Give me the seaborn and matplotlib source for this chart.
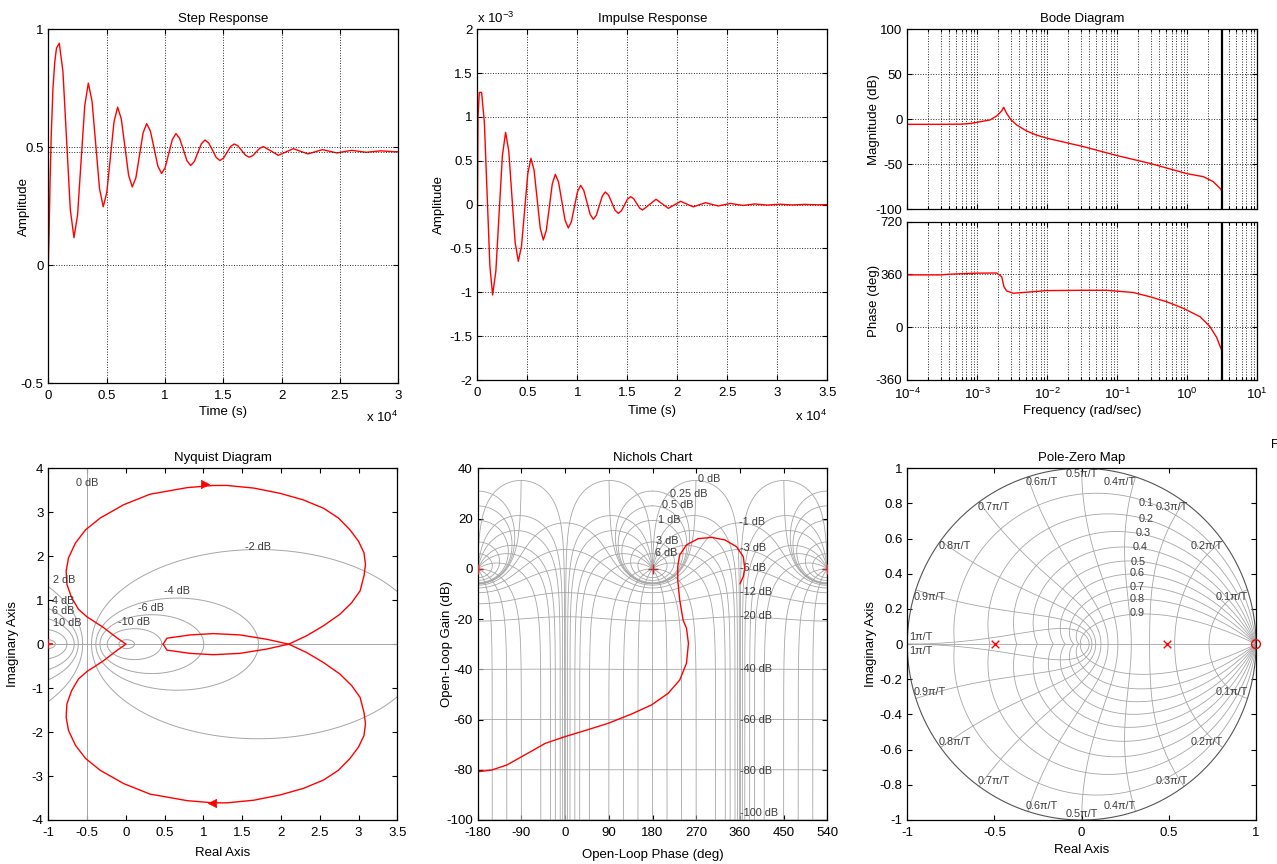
import numpy as np
import seaborn as sns
from matplotlib import pyplot as plt
from matplotlib.ticker import FuncFormatter, LogLocator, NullFormatter

# ============ values ============
step_time = [0, 60, 150, 250, 400, 550, 700, 940, 1255, 1570, 1885, 2200, 2508, 2815, 3123, 3430,
             3750, 4070, 4390, 4710, 5018, 5325, 5633, 5940, 6255, 6570, 6885, 7200, 7508, 7815, 8123,
             8430, 8750, 9070, 9390, 9710, 10018, 10325, 10633, 10940, 11255, 11570, 11885, 12200,
             12508, 12815, 13123, 13430, 13750, 14070, 14390, 14710, 15018, 15325, 15633, 15940,
             16263, 16585, 16908, 17230, 17530, 17830, 18130, 18430, 19070, 19710, 20355, 21000,
             21625, 22250, 22875, 23500, 24125, 24750, 25375, 26000, 26625, 27250, 27875, 28500,
             29125, 29750, 30000]
step_amp = [0.0, 0.12, 0.35, 0.55, 0.75, 0.86, 0.92, 0.941, 0.821, 0.529, 0.237, 0.117, 0.213, 0.445,
            0.676, 0.772, 0.695, 0.510, 0.325, 0.248, 0.310, 0.459, 0.608, 0.670, 0.621, 0.501, 0.381,
            0.332, 0.371, 0.466, 0.561, 0.600, 0.569, 0.495, 0.420, 0.389, 0.414, 0.474, 0.533, 0.558,
            0.538, 0.491, 0.443, 0.423, 0.439, 0.477, 0.515, 0.531, 0.518, 0.488, 0.457, 0.444, 0.454,
            0.479, 0.504, 0.514, 0.506, 0.486, 0.466, 0.458, 0.465, 0.481, 0.496, 0.503, 0.485, 0.466,
            0.480, 0.494, 0.483, 0.472, 0.481, 0.490, 0.483, 0.476, 0.482, 0.487, 0.483, 0.479, 0.482,
            0.485, 0.483, 0.481, 0.482]
step_final = 0.482

impulse_time = [0, 70, 200, 430, 705, 980, 1255, 1530, 1855, 2180, 2505, 2830, 3148, 3465, 3783, 4100,
                4418, 4735, 5053, 5370, 5678, 5985, 6293, 6600, 6900, 7200, 7500, 7800, 8125, 8450,
                8775, 9100, 9408, 9715, 10023, 10330, 10648, 10965, 11283, 11600, 11900, 12200, 12500,
                12800, 13125, 13450, 13775, 14100, 14408, 14715, 15023, 15330, 15630, 15930, 16230,
                16530, 17200, 17870, 18485, 19100, 19715, 20330, 20965, 21600, 22215, 22830, 23465,
                24100, 24715, 25330, 25965, 26600, 27185, 27770, 28400, 29000, 29600, 30250, 30900,
                31500, 32150, 32750, 33400, 34000, 35000]
impulse_amp_milli = [-0.33, 1.0, 1.28, 1.28, 0.943, 0.125, -0.693, -1.03, -0.759, -0.103, 0.554, 0.825,
                     0.610, 0.090, -0.431, -0.646, -0.475, -0.059, 0.357, 0.528, 0.392, 0.063, -0.267,
                     -0.403, -0.294, -0.029, 0.237, 0.346, 0.257, 0.040, -0.177, -0.266, -0.195, -0.023,
                     0.149, 0.220, 0.163, 0.027, -0.110, -0.167, -0.122, -0.012, 0.099, 0.144, 0.109,
                     0.023, -0.064, -0.099, -0.071, -0.004, 0.063, 0.091, 0.069, 0.015, -0.039, -0.061,
                     0.0, 0.061, 0.010, -0.042, -0.002, 0.038, 0.006, -0.025, -0.001, 0.022, 0.003,
                     -0.015, 0.0, 0.014, 0.002, -0.009, 0.0, 0.008, 0.001, -0.005, 0.0, 0.005, 0.0,
                     -0.003, 0.0, 0.003, 0.0, -0.002, 0.0]

bode_mag_freq = [1e-4, 3e-4, 6e-4, 8e-4, 1e-3, 1.52e-3, 1.89e-3, 2.23e-3, 2.38e-3, 2.62e-3, 2.99e-3,
                 3.65e-3, 5.07e-3, 7e-3, 1e-2, 2e-2, 3.3e-2, 0.1, 0.29, 1.0, 1.69, 2.35, 2.77, 3.0, 3.1416]
bode_mag_db = [-5.6, -5.6, -5.4, -4.6, -3.3, -0.7, 3.7, 9.3, 13.3, 6.7, 0.0, -6.3, -13.0, -17.5, -21.1,
               -26.5, -30.4, -40.4, -48.9, -60.5, -63.7, -69.3, -74.8, -77.5, -80.4]
bode_phase_freq = [1e-4, 3.0e-4, 4.07e-4, 1e-3, 1.89e-3, 2.23e-3, 2.40e-3, 2.62e-3, 3.27e-3, 4.54e-3,
                   9.77e-3, 0.0327, 0.0705, 0.169, 0.293, 0.507, 0.877, 1.52, 2.11, 2.62, 3.1416]
bode_phase_deg = [357, 357, 362, 369, 370, 345, 277, 248, 232, 237, 250, 252, 252, 237, 208, 174, 129,
                  72, 4, -69, -165]
nyquist_freq = 3.1416

# positive-frequency branch of the Nyquist curve (the other branch is its mirror image)
nyq_re = [0.48, 0.53, 0.83, 1.13, 1.47, 1.82, 2.10, 2.33, 2.55, 2.76, 2.91, 3.02, 3.07, 3.09, 3.07,
          3.00, 2.89, 2.74, 2.55, 2.29, 1.99, 1.65, 1.30, 1.13, 0.79, 0.31, -0.03, -0.33, -0.52, -0.65,
          -0.74, -0.77, -0.76, -0.70, -0.61, -0.50, -0.29, -0.12, 0.0]
nyq_im = [0.0, 0.136, 0.21, 0.24, 0.21, 0.11, 0.0, -0.19, -0.42, -0.68, -0.94, -1.21, -1.55, -1.81,
          -2.08, -2.34, -2.60, -2.87, -3.09, -3.28, -3.43, -3.55, -3.61, -3.61, -3.56, -3.41, -3.17,
          -2.87, -2.60, -2.30, -1.96, -1.66, -1.36, -1.06, -0.79, -0.62, -0.38, -0.15, 0.0]
nyq_arrow_re = [1.02, 1.11]
nyq_arrow_im = [3.65, -3.61]

nich_phase = [-180, -151, -120, -83, -41, 0, 41, 89, 137, 178, 212, 236, 250, 254, 250, 243, 236, 232,
              232, 236, 250, 274, 302, 329, 353, 367, 370, 367, 360]
nich_gain = [-80.8, -80.1, -78.1, -74.1, -69.5, -66.8, -64.4, -61.5, -57.8, -54.2, -49.6, -44.3, -37.6,
             -29.7, -23.7, -20.4, -12.4, -4.5, 0.9, 5.5, 9.5, 12.0, 12.5, 11.5, 8.8, 4.8, 0.2, -3.1, -6.0]
nich_critical = [-180, 180, 540]

pole_re = [-0.495, 0.488]
pole_im = [0.0, 0.0]
zero_re = [1.0]
zero_im = [0.0]

# grid levels and their labels
nyq_db_levels = [-20, -10, -6, -4, -2, 2, 4, 6, 10, 20]
nyq_labels = ['0 dB', '2 dB', '4 dB', '6 dB', '10 dB', '-2 dB', '-4 dB', '-6 dB', '-10 dB']
nyq_label_x = [-0.5, -0.8, -0.81, -0.81, -0.75, 1.70, 0.66, 0.33, 0.10]
nyq_label_y = [3.67, 1.46, 0.99, 0.75, 0.49, 2.22, 1.21, 0.83, 0.51]

nich_mag_levels = [6, 3, 1, 0.5, 0.25, 0, -1, -3, -6, -12, -20, -40, -60, -80, -100]
nich_phase_levels = [-1, -5, -10, -20, -30, -50, -90, -120, -150, -180, -210, -240, -270, -310, -330,
                     -340, -350, -355, -359]
nich_labels = ['0 dB', '0.25 dB', '0.5 dB', '1 dB', '3 dB', '6 dB', '-1 dB', '-3 dB', '-6 dB',
               '-12 dB', '-20 dB', '-40 dB', '-60 dB', '-80 dB', '-100 dB']
nich_label_x = [274, 216, 200, 192, 187, 185, 359, 361, 361, 361, 361, 361, 361, 361, 361]
nich_label_y = [35.6, 29.8, 25.3, 19.4, 11.2, 6.2, 18.6, 8.2, 0.5, -9.2, -18.8, -40, -60, -80.4, -97.4]

pz_zeta = [0.1, 0.2, 0.3, 0.4, 0.5, 0.6, 0.7, 0.8, 0.9]
pz_zeta_label_x = [0.37, 0.372, 0.352, 0.335, 0.327, 0.32, 0.32, 0.32, 0.32]
pz_zeta_label_y = [0.80, 0.71, 0.63, 0.55, 0.469, 0.403, 0.327, 0.255, 0.175]
pz_wn = [0.1, 0.2, 0.3, 0.4, 0.5, 0.6, 0.7, 0.8, 0.9, 1.0]
pz_wn_labels = ['0.1π/T', '0.2π/T', '0.3π/T', '0.4π/T', '0.5π/T', '0.6π/T', '0.7π/T', '0.8π/T',
                '0.9π/T', '1π/T']
pz_wn_label_x = [0.862, 0.719, 0.52, 0.216, 0.0, -0.226, -0.505, -0.728, -0.87, -0.923]
pz_wn_label_y = [0.27, 0.558, 0.778, 0.92, 0.966, 0.92, 0.778, 0.558, 0.27, 0.04]

# ============ style ============
sns.set_theme(style='white')
plt.rcParams['font.family'] = ['Liberation Sans', 'DejaVu Sans']
plt.rcParams.update({
    'font.size': 9.5, 'axes.titlesize': 9.5, 'axes.labelsize': 9.5,
    'xtick.labelsize': 9.5, 'ytick.labelsize': 9.5,
    'axes.unicode_minus': False,
    'mathtext.fontset': 'custom', 'mathtext.rm': 'Liberation Sans',
    'mathtext.it': 'Liberation Sans:italic', 'mathtext.bf': 'Liberation Sans:bold',
    'text.color': 'black', 'axes.labelcolor': 'black',
    'xtick.color': 'black', 'ytick.color': 'black',
})

W, H = 1277, 864
RED = '#ff0000'
GRID = '#2a2a2a'
LIGHT = '#a6a6a6'
LABEL = '#3c3c3c'


def box(l, t, r, b):
    return [l / W, 1 - b / H, (r - l) / W, (b - t) / H]


def plain(v, pos):
    return f'{round(v, 6) + 0:g}'


def style(ax, title, xlabel, ylabel, ylab_x, xlab_y, dotted_grid=True):
    ax.set_facecolor('white')
    for s in ax.spines.values():
        s.set_visible(True)
        s.set_color('black')
        s.set_linewidth(0.9)
    ax.tick_params(which='both', direction='in', top=True, right=True, bottom=True, left=True,
                   width=0.8, colors='black')
    ax.tick_params(which='major', length=3.5)
    ax.tick_params(which='minor', length=2)
    ax.tick_params(axis='x', pad=5)
    ax.tick_params(axis='y', pad=3.5)
    if dotted_grid:
        ax.grid(True, which='major', color=GRID, linestyle=':', linewidth=0.7)
    if title:
        ax.set_title(title, pad=5)
    if xlabel:
        ax.set_xlabel(xlabel)
        ax.xaxis.set_label_coords(0.5, xlab_y)
    if ylabel:
        ax.set_ylabel(ylabel)
        ax.yaxis.set_label_coords(ylab_x, 0.5)


def line(ax, x, y, **kw):
    sns.lineplot(x=x, y=y, ax=ax, color=RED, linewidth=1.0, sort=False, estimator=None, **kw)


fig = plt.figure(figsize=(W / 100, H / 100), dpi=100)

# ============ Step Response ============
ax = fig.add_axes(box(48.3, 29.3, 398.3, 383.3))
line(ax, step_time, step_amp)
ax.axhline(step_final, color=GRID, linestyle=':', linewidth=0.7)
ax.set_xlim(0, 30000)
ax.set_ylim(-0.5, 1)
ax.set_xticks(range(0, 30001, 5000))
ax.set_yticks([-0.5, 0, 0.5, 1])
ax.xaxis.set_major_formatter(FuncFormatter(lambda v, p: plain(v / 1e4, p)))
ax.yaxis.set_major_formatter(FuncFormatter(plain))
style(ax, 'Step Response', 'Time (s)', 'Amplitude', -0.052, -0.065)
ax.text(1.0, -0.11, 'x 10$^{4}$', transform=ax.transAxes, ha='right', va='baseline')

# ============ Impulse Response ============
ax = fig.add_axes(box(477.3, 29.3, 827.3, 380))
line(ax, impulse_time, impulse_amp_milli)
ax.set_xlim(0, 35000)
ax.set_ylim(-2, 2)
ax.set_xticks(range(0, 35001, 5000))
ax.set_yticks([-2, -1.5, -1, -0.5, 0, 0.5, 1, 1.5, 2])
ax.xaxis.set_major_formatter(FuncFormatter(lambda v, p: plain(v / 1e4, p)))
ax.yaxis.set_major_formatter(FuncFormatter(plain))
style(ax, 'Impulse Response', 'Time (s)', 'Amplitude', -0.092, -0.071)
ax.text(1.0, -0.117, 'x 10$^{4}$', transform=ax.transAxes, ha='right', va='baseline')
ax.text(0.0, 1.018, 'x 10$^{-3}$', transform=ax.transAxes, ha='left', va='baseline')

# ============ Bode Diagram ============
ax_m = fig.add_axes(box(907.3, 29.3, 1257.3, 209.3))
ax_p = fig.add_axes(box(907.3, 221.7, 1257.3, 380))
line(ax_m, bode_mag_freq, bode_mag_db)
line(ax_p, bode_phase_freq, bode_phase_deg)
for a in (ax_m, ax_p):
    a.set_xscale('log')
    a.set_xlim(1e-4, 1e1)
    a.xaxis.set_major_locator(LogLocator(base=10, numticks=10))
    a.xaxis.set_minor_locator(LogLocator(base=10, subs=np.arange(2, 10), numticks=20))
    a.xaxis.set_minor_formatter(NullFormatter())
    a.axvline(nyquist_freq, color='black', linewidth=1.6, zorder=3)
ax_m.set_ylim(-100, 100)
ax_m.set_yticks([-100, -50, 0, 50, 100])
ax_p.set_ylim(-360, 720)
ax_p.set_yticks([-360, 0, 360, 720])
ax_m.yaxis.set_major_formatter(FuncFormatter(plain))
ax_p.yaxis.set_major_formatter(FuncFormatter(plain))
style(ax_m, 'Bode Diagram', None, 'Magnitude (dB)', -0.078, 0)
style(ax_p, None, 'Frequency (rad/sec)', 'Phase (deg)', -0.078, -0.158)
for a in (ax_m, ax_p):
    a.xaxis.grid(True, which='minor', color=GRID, linestyle=':', linewidth=0.7)
ax_m.tick_params(axis='x', labelbottom=False)

# ============ Nyquist Diagram ============
ax = fig.add_axes(box(48.3, 468.3, 397.3, 820))
theta = np.linspace(0, 2 * np.pi, 500)
for db in nyq_db_levels:
    m = 10 ** (db / 20)
    c = -m ** 2 / (m ** 2 - 1)
    r = abs(m / (m ** 2 - 1))
    ax.plot(c + r * np.cos(theta), r * np.sin(theta), color=LIGHT, linewidth=0.7, zorder=1)
ax.axvline(-0.5, color=LIGHT, linewidth=0.7, zorder=1)
ax.axhline(0, color=LIGHT, linewidth=0.7, zorder=1)
for t, x, y in zip(nyq_labels, nyq_label_x, nyq_label_y):
    ax.text(x, y, t, ha='center', va='center', fontsize=7.8, color=LABEL)
line(ax, nyq_re, nyq_im)
line(ax, nyq_re, [-v for v in nyq_im])
sns.scatterplot(x=nyq_arrow_re[:1], y=nyq_arrow_im[:1], marker='>', color=RED, s=36,
                edgecolor=RED, ax=ax, zorder=4)
sns.scatterplot(x=nyq_arrow_re[1:], y=nyq_arrow_im[1:], marker='<', color=RED, s=36,
                edgecolor=RED, ax=ax, zorder=4)
sns.scatterplot(x=[-1], y=[0], marker='+', color=RED, s=50, linewidth=1.2, ax=ax, zorder=4)
ax.set_xlim(-1, 3.5)
ax.set_ylim(-4, 4)
ax.set_xticks([-1, -0.5, 0, 0.5, 1, 1.5, 2, 2.5, 3, 3.5])
ax.set_yticks(range(-4, 5))
ax.xaxis.set_major_formatter(FuncFormatter(plain))
ax.yaxis.set_major_formatter(FuncFormatter(plain))
style(ax, 'Nyquist Diagram', 'Real Axis', 'Imaginary Axis', -0.083, -0.077, dotted_grid=False)


# ============ Nichols Chart ============
def nichols_locus(t):
    g = t / (1 - t)
    return np.degrees(np.unwrap(np.angle(g))), 20 * np.log10(np.abs(g))


ax = fig.add_axes(box(477.7, 468.3, 827.3, 820))
psi_full = np.radians(np.linspace(0, -360, 1441))
psi_open = np.radians(np.linspace(-1, -359, 1433))
for lev in nich_mag_levels:
    m = 10 ** (lev / 20)
    ph, gn = nichols_locus(m * np.exp(1j * (psi_open if lev == 0 else psi_full)))
    for k in range(-2, 4):
        ax.plot(ph + 360 * k, gn, color=LIGHT, linewidth=0.6, zorder=1)
mags = np.unique(np.concatenate([np.logspace(-6, 4, 900), np.linspace(0.85, 1.15, 3000)]))
for lev in nich_phase_levels:
    ph, gn = nichols_locus(mags * np.exp(1j * np.radians(lev)))
    for k in range(-2, 4):
        ax.plot(ph + 360 * k, gn, color=LIGHT, linewidth=0.6, zorder=1)
for t, x, y in zip(nich_labels, nich_label_x, nich_label_y):
    ax.text(x, y, t, ha='left', va='center', fontsize=7.8, color=LABEL, zorder=2)
line(ax, nich_phase, nich_gain)
sns.scatterplot(x=nich_critical, y=[0] * len(nich_critical), marker='+', color='#b83030', s=60,
                linewidth=1.0, ax=ax, zorder=4)
ax.set_xlim(-180, 540)
ax.set_ylim(-100, 40)
ax.set_xticks([-180, -90, 0, 90, 180, 270, 360, 450, 540])
ax.set_yticks(range(-100, 41, 20))
ax.xaxis.set_major_formatter(FuncFormatter(plain))
ax.yaxis.set_major_formatter(FuncFormatter(plain))
style(ax, 'Nichols Chart', 'Open-Loop Phase (deg)', 'Open-Loop Gain (dB)', -0.071, -0.082,
      dotted_grid=False)

# ============ Pole-Zero Map ============
ax = fig.add_axes(box(907.3, 468.3, 1256, 820))
for z in pz_zeta:
    wn = np.linspace(0, np.pi / np.sqrt(1 - z ** 2), 300)
    zz = np.exp(-z * wn + 1j * wn * np.sqrt(1 - z ** 2))
    ax.plot(zz.real, zz.imag, color=LIGHT, linewidth=0.6, zorder=1)
    ax.plot(zz.real, -zz.imag, color=LIGHT, linewidth=0.6, zorder=1)
zeta_run = np.linspace(0, 1, 200)
for w in pz_wn:
    wn = w * np.pi
    zz = np.exp(-zeta_run * wn + 1j * wn * np.sqrt(1 - zeta_run ** 2))
    ax.plot(zz.real, zz.imag, color=LIGHT, linewidth=0.6, zorder=1)
    ax.plot(zz.real, -zz.imag, color=LIGHT, linewidth=0.6, zorder=1)
ax.plot(np.cos(theta), np.sin(theta), color='#555555', linewidth=0.8, zorder=1)
ax.axhline(0, color=LIGHT, linewidth=0.6, zorder=1)
for t, x, y in zip(pz_zeta, pz_zeta_label_x, pz_zeta_label_y):
    ax.text(x, y, f'{t:g}', ha='center', va='center', fontsize=7.8, color=LABEL)
for t, x, y in zip(pz_wn_labels, pz_wn_label_x, pz_wn_label_y):
    ax.text(x, y, t, ha='center', va='center', fontsize=7.8, color=LABEL)
    ax.text(x, -y, t, ha='center', va='center', fontsize=7.8, color=LABEL)
sns.scatterplot(x=pole_re, y=pole_im, marker='x', color=RED, s=30, linewidth=1.0, ax=ax, zorder=4)
sns.scatterplot(x=zero_re, y=zero_im, marker='o', facecolor='none', edgecolor=RED, s=40,
                linewidth=1.0, ax=ax, zorder=4, clip_on=False)
ax.set_xlim(-1, 1)
ax.set_ylim(-1, 1)
ax.set_xticks([-1, -0.5, 0, 0.5, 1])
ax.set_yticks([-1, -0.8, -0.6, -0.4, -0.2, 0, 0.2, 0.4, 0.6, 0.8, 1])
ax.xaxis.set_major_formatter(FuncFormatter(plain))
ax.yaxis.set_major_formatter(FuncFormatter(plain))
style(ax, 'Pole-Zero Map', 'Real Axis', 'Imaginary Axis', -0.087, -0.068, dotted_grid=False)

fig.text(1270.5 / W, 1 - 445 / H, 'F', ha='left', va='center', fontsize=9)

fig.savefig('out.png', dpi=100, facecolor='white')
